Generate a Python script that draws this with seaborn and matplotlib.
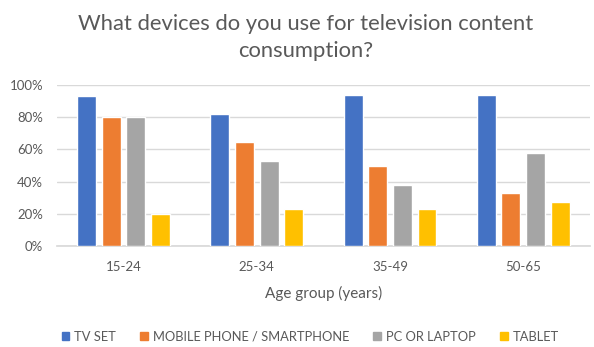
import matplotlib
matplotlib.use("Agg")
import matplotlib.pyplot as plt
import matplotlib.patches as mpatches
from matplotlib.ticker import PercentFormatter
import seaborn as sns
import pandas as pd

age_groups = ["15-24", "25-34", "35-49", "50-65"]
devices = ["TV SET", "MOBILE PHONE / SMARTPHONE", "PC OR LAPTOP", "TABLET"]
tv_set = [93, 82, 94, 94]
mobile = [80, 64.5, 49.5, 33]
pc_laptop = [80, 53, 38, 58]
tablet = [20, 23, 23, 27.5]

palette = ["#4472C4", "#ED7D31", "#A5A5A5", "#FFC000"]
text_gray = "#595959"

rows = []
for dev, vals in zip(devices, [tv_set, mobile, pc_laptop, tablet]):
    for grp, v in zip(age_groups, vals):
        rows.append({"Age group": grp, "Device": dev, "Share": v / 100})
df = pd.DataFrame(rows)

sns.set_theme(style="white")
plt.rcParams["font.family"] = ["Lato", "DejaVu Sans"]

fig = plt.figure(figsize=(5.94, 3.47), dpi=100)
ax = fig.add_axes([0.096, 0.291, 0.897, 0.464])

sns.barplot(data=df, x="Age group", y="Share", hue="Device", order=age_groups,
            hue_order=devices, palette=palette, width=0.74, gap=0.23,
            saturation=1, legend=False, ax=ax, zorder=3)

ax.set_ylim(0, 1.0)
ax.set_yticks([0, 0.2, 0.4, 0.6, 0.8, 1.0])
ax.yaxis.set_major_formatter(PercentFormatter(1.0, decimals=0))
ax.grid(axis="y", color="#D9D9D9", linewidth=1, zorder=0)
ax.set_axisbelow(True)
for side in ["top", "right", "left"]:
    ax.spines[side].set_visible(False)
ax.spines["bottom"].set_color("#D9D9D9")
ax.tick_params(axis="both", length=0, labelsize=9.5, colors=text_gray)
ax.tick_params(axis="x", pad=11)
ax.tick_params(axis="y", pad=10)
ax.set_xlabel("Age group (years)", fontsize=11, color=text_gray, labelpad=9)
ax.set_ylabel("")

fig.text(0.515, 0.96, "What devices do you use for television content\nconsumption?",
         ha="center", va="top", fontsize=15.8, color=text_gray, linespacing=1.45)

handles = [mpatches.Patch(color=c, label=d) for c, d in zip(palette, devices)]
fig.legend(handles=handles, loc="center", bbox_to_anchor=(0.522, 0.03), ncol=4,
           frameon=False, fontsize=9.3, handlelength=0.6, handleheight=0.6,
           handletextpad=0.35, columnspacing=1.9, labelcolor=text_gray)

fig.savefig("out.png", dpi=100)
